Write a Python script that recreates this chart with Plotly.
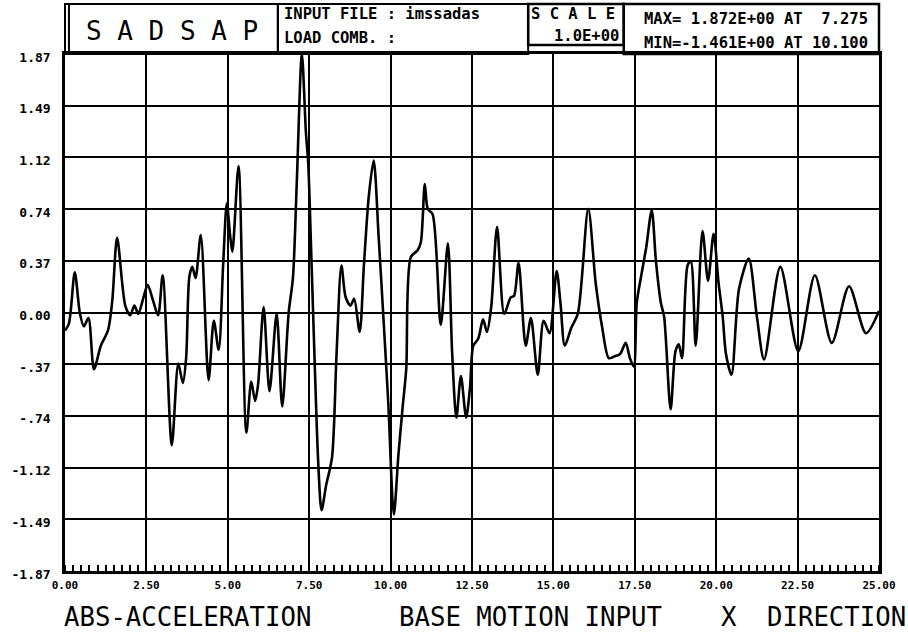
import plotly.graph_objects as go

# ---- data ----
time_s = [0.00, 0.12, 0.30, 0.46, 0.58, 0.72, 0.89, 1.10, 1.32, 1.45, 1.60, 1.85, 2.00, 2.13, 2.25,
          2.40, 2.54, 2.70, 2.86, 3.00, 3.28, 3.48, 3.62, 3.72, 3.82, 3.91, 4.01, 4.17, 4.41, 4.57,
          4.72, 4.86, 4.97, 5.07, 5.14, 5.33, 5.57, 5.72, 5.84, 5.93, 6.10, 6.28, 6.50, 6.67, 6.87,
          7.00, 7.12, 7.275, 7.40, 7.47, 7.56, 7.66, 7.78, 7.88, 8.02, 8.20, 8.34, 8.49, 8.62, 8.77,
          8.88, 9.05, 9.18, 9.33, 9.48, 9.63, 9.78, 9.93, 10.10, 10.24, 10.38, 10.48, 10.62, 10.83,
          10.93, 11.05, 11.14, 11.29, 11.54, 11.76, 11.89, 12.02, 12.16, 12.32, 12.44, 12.54, 12.69,
          12.84, 12.96, 13.09, 13.27, 13.49, 13.69, 13.79, 13.93, 14.15, 14.31, 14.52, 14.70, 14.88,
          15.10, 15.22, 15.35, 15.55, 15.75, 16.07, 16.30, 16.50, 16.70, 16.85, 17.05, 17.22, 17.35,
          17.47, 17.56, 17.70, 17.85, 18.02, 18.15, 18.30, 18.40, 18.60, 18.75, 18.85, 18.95, 19.12,
          19.22, 19.37, 19.58, 19.75, 19.92, 20.07, 20.20, 20.30, 20.47, 20.70, 21.00, 21.25, 21.47,
          21.97, 22.52, 23.03, 23.55, 24.08, 24.60, 25.00]
accel = [-0.13, -0.08, 0.29, -0.01, -0.10, -0.04, -0.41, -0.24, -0.13, 0.08, 0.54, 0.05, -0.02, 0.05, -0.01,
         0.10, 0.20, 0.09, -0.02, 0.27, -0.96, -0.37, -0.51, -0.33, 0.26, 0.33, 0.25, 0.56, -0.49, -0.06,
         -0.27, 0.36, 0.79, 0.56, 0.44, 1.06, -0.87, -0.50, -0.64, -0.52, 0.04, -0.57, -0.01, -0.68, 0.00,
         0.25, 0.95, 1.872, 1.30, 1.08, 0.45, -0.30, -1.10, -1.43, -1.25, -1.05, -0.30, 0.34, 0.11, 0.05,
         0.10, -0.14, 0.34, 0.84, 1.10, 0.56, -0.04, -0.66, -1.461, -1.03, -0.66, -0.41, 0.40, 0.45,
         0.51, 0.93, 0.75, 0.71, -0.09, 0.50, -0.29, -0.76, -0.46, -0.76, -0.54, -0.24, -0.19,
         -0.05, -0.14, 0.04, 0.62, -0.01, 0.11, 0.12, 0.36, -0.24, -0.04, -0.45, -0.06, -0.15,
         0.30, 0.06, -0.24, -0.11, -0.01, 0.75, 0.21, -0.11, -0.33, -0.32, -0.30, -0.22, -0.33,
         -0.39, 0.07, 0.27, 0.47, 0.74, 0.37, 0.07, -0.03, -0.70, -0.28, -0.23, -0.33, 0.34,
         0.37, -0.24, 0.59, 0.23, 0.57, 0.22, -0.03, -0.30, -0.45, 0.17, 0.39, -0.03, -0.34,
         0.33, -0.28, 0.27, -0.22, 0.19, -0.15, 0.01]

x_ticks = [0, 2.5, 5, 7.5, 10, 12.5, 15, 17.5, 20, 22.5, 25]
x_tick_text = ["0.00", "2.50", "5.00", "7.50", "10.00", "12.50", "15.00", "17.50", "20.00", "22.50", "25.00"]
y_ticks = [1.87, 1.496, 1.122, 0.748, 0.374, 0.0, -0.374, -0.748, -1.122, -1.496, -1.87]
y_tick_text = ["1.87", "1.49", "1.12", "0.74", "0.37", "0.00", "-.37", "-.74", "-1.12", "-1.49", "-1.87"]

NB = "\u00a0"
header_program = NB.join("SADSAP")
header_file = ["INPUT FILE : imssadas", "LOAD COMB. :"]
header_scale = [NB.join("SCALE"), "1.0E+00"]
header_maxmin = ["MAX= 1.872E+00 AT" + NB * 2 + "7.275", "MIN=-1.461E+00 AT 10.100"]
footer = [("ABS-ACCELERATION", 50), ("BASE MOTION INPUT", 390), ("X", 717), ("DIRECTION", 763)]

# ---- geometry (pixels) ----
W, H = 908, 637
L, R, T, B = 53, 879, 54, 571
def px(x):
    return (x - L) / (R - L)
def py(y):
    return (B - y) / (B - T)

MONO = "DejaVu Sans Mono, Liberation Mono, monospace"

fig = go.Figure()
fig.add_trace(go.Scatter(x=time_s, y=accel, mode="lines",
                         line=dict(color="black", width=2.6, shape="spline", smoothing=0.8),
                         hoverinfo="x+y", showlegend=False))

shapes = []
def rect(x0, y0, x1, y1, w=2):
    shapes.append(dict(type="rect", xref="paper", yref="paper", x0=px(x0), x1=px(x1),
                       y0=py(y1), y1=py(y0), line=dict(color="black", width=w)))
def vline(x, y0, y1, w=2):
    shapes.append(dict(type="line", xref="paper", yref="paper", x0=px(x), x1=px(x),
                       y0=py(y1), y1=py(y0), line=dict(color="black", width=w)))

rect(53, 4, 269, 54)
vline(57, 4, 54)
rect(269, 4, 523, 54)
rect(523, 4, 620, 45, w=2.5)
rect(620, 4, 879, 54, w=2.5)

ann = []
def text(s, x, y, size, anchor="left", bold=True):
    ann.append(dict(text=s, xref="paper", yref="paper", x=px(x), y=py(y), xanchor=anchor,
                    yanchor="middle", showarrow=False,
                    font=dict(family=MONO, size=size, color="black",
                              weight="bold" if bold else "normal")))

text(header_program, 162, 31, 26, anchor="center", bold=False)
text(header_file[0], 273, 14, 15.5)
text(header_file[1], 273, 38, 15.5)
text(header_scale[0], 524, 14, 15.5)
text(header_scale[1], 617, 36, 15.5, anchor="right")
text(header_maxmin[0], 638, 19, 15.5)
text(header_maxmin[1], 638, 43, 15.5)
for s, x in footer:
    text(s, x, 617, 25.7, bold=False)

fig.update_layout(
    width=W, height=H,
    margin=dict(l=L, r=W - R, t=T, b=H - B),
    paper_bgcolor="white", plot_bgcolor="white",
    shapes=shapes, annotations=ann,
    xaxis=dict(range=[0, 25], tickvals=x_ticks, ticktext=x_tick_text,
               showgrid=True, gridcolor="black", gridwidth=2,
               showline=True, linecolor="black", linewidth=2.5, mirror=True,
               zeroline=False, ticks="", ticklen=0, ticklabelstandoff=2,
               tickfont=dict(family=MONO, size=11, color="black", weight="bold"),
               minor=dict(dtick=0.25, ticks="inside", ticklen=6, tickcolor="black",
                          tickwidth=1.5, showgrid=False)),
    yaxis=dict(range=[-1.87, 1.87], tickvals=y_ticks, ticktext=y_tick_text,
               showgrid=True, gridcolor="black", gridwidth=2,
               showline=True, linecolor="black", linewidth=2.5, mirror=True,
               zeroline=False, ticks="", ticklabelstandoff=9, ticklabelshift=3,
               tickfont=dict(family=MONO, size=13, color="black", weight="bold")),
)

fig.write_html("out.html", config={"displayModeBar": False},
               post_script="document.body.style.margin='0px';")
